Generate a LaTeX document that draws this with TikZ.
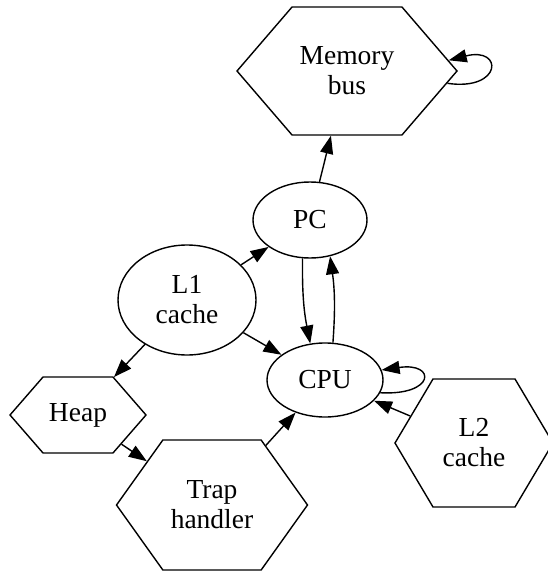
\documentclass[tikz,border=0pt]{standalone}
\usepackage{fontspec}
\setmainfont{Liberation Serif}
\usetikzlibrary{shapes.geometric,shapes.symbols,arrows.meta}
\begin{document}
\begin{tikzpicture}[x=1pt,y=-1pt,
  box/.style={draw, line width=1.4pt, inner sep=0pt, align=center, font=\fontsize{27.5}{30}\selectfont},
  ell/.style={box, ellipse},
  hexa/.style={box, signal, signal to=east and west},
  arr/.style={-{Triangle[length=18pt,width=13pt]}, line width=1.4pt}]
\useasboundingbox (0,0) rectangle (547,572);
\node[hexa, minimum width=220pt, minimum height=128pt, signal pointer angle=98.6] (mem) at (347,71) {Memory\\bus};
\node[ell, minimum width=114pt, minimum height=76pt] (pc) at (310,220) {PC};
\node[ell, minimum width=138pt, minimum height=110pt] (l1) at (187,300) {L1\\cache};
\node[ell, minimum width=116pt, minimum height=74pt] (cpu) at (325,380) {CPU};
\node[hexa, minimum width=136pt, minimum height=76pt, signal pointer angle=98] (heap) at (78,415) {Heap};
\node[hexa, minimum width=191pt, minimum height=130pt, signal pointer angle=109] (trap) at (212,505) {Trap\\handler};
\node[hexa, minimum width=158pt, minimum height=128pt, signal pointer angle=118.6] (l2) at (474,443) {L2\\cache};

\draw[arr] (pc) -- (mem);
\draw[arr] (mem.-7) .. controls +(55,8) and +(55,-14) .. (mem.6);
\draw[arr] (l1) -- (pc);
\draw[arr] (l1) -- (cpu);
\draw[arr] (l1) -- (heap);
\draw[arr] (pc.259) to[bend right=6] (cpu.112);
\draw[arr] (cpu.78) to[bend right=6] (pc.299);
\draw[arr] (cpu.-13) .. controls +(55,3) and +(55,-8) .. (cpu.10);
\draw[arr] (l2) -- (cpu);
\draw[arr] (trap) -- (cpu);
\draw[arr] (heap) -- (trap);
\end{tikzpicture}
\end{document}
